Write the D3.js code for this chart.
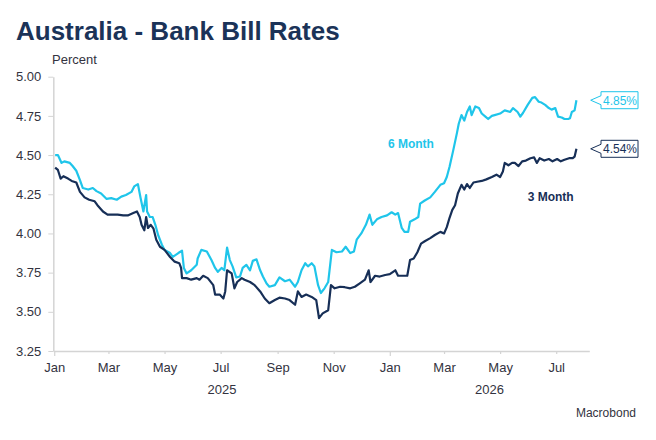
<!DOCTYPE html>
<html>
<head>
<meta charset="utf-8">
<script src="https://cdn.jsdelivr.net/npm/d3@7"></script>
<style>
  body { margin: 0; background: #fff; }
  svg { display: block; font-family: "Liberation Sans", Arial, sans-serif; }
  .axis path, .axis line { stroke: #d4d4d4; }
  .axis text { fill: #333340; font-size: 13px; }
</style>
</head>
<body>
<svg id="chart" width="656" height="440"></svg>
<script>
var title = 'Australia - Bank Bill Rates';
var unitLabel = 'Percent';
var sourceLabel = 'Macrobond';

var yTickValues = [3.25, 3.5, 3.75, 4.0, 4.25, 4.5, 4.75, 5.0];
var xDomain = ['2024-12-31', '2026-08-06'];

// 6 month bank bill
var sixMonthDates = [
  '2025-01-02', '2025-01-05', '2025-01-09', '2025-01-12', '2025-01-18', '2025-01-21', '2025-01-25', '2025-01-29',
  '2025-02-01', '2025-02-07', '2025-02-12', '2025-02-16', '2025-02-21', '2025-02-27', '2025-03-04', '2025-03-10',
  '2025-03-15', '2025-03-20', '2025-03-26', '2025-03-29', '2025-04-02', '2025-04-05', '2025-04-08', '2025-04-11',
  '2025-04-12', '2025-04-15', '2025-04-18', '2025-04-21', '2025-04-24', '2025-04-28', '2025-05-01', '2025-05-07',
  '2025-05-10', '2025-05-16', '2025-05-20', '2025-05-22', '2025-05-25', '2025-05-30', '2025-06-05', '2025-06-06',
  '2025-06-10', '2025-06-16', '2025-06-21', '2025-06-25', '2025-06-28', '2025-07-02', '2025-07-05', '2025-07-08',
  '2025-07-11', '2025-07-14', '2025-07-18', '2025-07-22', '2025-07-25', '2025-07-29', '2025-08-02', '2025-08-05',
  '2025-08-09', '2025-08-13', '2025-08-16', '2025-08-20', '2025-08-23', '2025-08-29', '2025-09-03', '2025-09-09',
  '2025-09-14', '2025-09-20', '2025-09-23', '2025-09-27', '2025-10-01', '2025-10-04', '2025-10-08', '2025-10-11',
  '2025-10-15', '2025-10-18', '2025-10-22', '2025-10-26', '2025-10-30', '2025-11-04', '2025-11-10', '2025-11-14',
  '2025-11-19', '2025-11-23', '2025-11-26', '2025-12-01', '2025-12-06', '2025-12-10', '2025-12-13', '2025-12-18',
  '2025-12-23', '2025-12-29', '2026-01-03', '2026-01-07', '2026-01-10', '2026-01-14', '2026-01-17', '2026-01-21',
  '2026-01-23', '2026-01-28', '2026-02-01', '2026-02-03', '2026-02-08', '2026-02-14', '2026-02-19', '2026-02-25',
  '2026-03-01', '2026-03-04', '2026-03-07', '2026-03-11', '2026-03-15', '2026-03-17', '2026-03-20', '2026-03-23',
  '2026-03-26', '2026-03-29', '2026-03-31', '2026-04-04', '2026-04-08', '2026-04-11', '2026-04-15', '2026-04-18',
  '2026-04-22', '2026-04-25', '2026-05-01', '2026-05-06', '2026-05-12', '2026-05-15', '2026-05-20', '2026-05-23',
  '2026-05-26', '2026-05-31', '2026-06-05', '2026-06-08', '2026-06-12', '2026-06-15', '2026-06-19', '2026-06-23',
  '2026-06-26', '2026-06-30', '2026-07-03', '2026-07-07', '2026-07-10', '2026-07-14', '2026-07-16', '2026-07-18',
  '2026-07-21', '2026-07-23'
];
var sixMonthValues = [
  4.50, 4.50, 4.45, 4.46, 4.45, 4.43, 4.40, 4.34,
  4.29, 4.28, 4.29, 4.27, 4.255, 4.22, 4.225, 4.215,
  4.235, 4.245, 4.265, 4.30, 4.315, 4.225, 4.14, 4.245,
  4.14, 4.105, 4.105, 4.055, 3.99, 3.93, 3.895, 3.875,
  3.85, 3.875, 3.89, 3.78, 3.745, 3.765, 3.80, 3.84,
  3.895, 3.885, 3.83, 3.78, 3.755, 3.78, 3.765, 3.91,
  3.83, 3.79, 3.72, 3.725, 3.78, 3.80, 3.765, 3.825,
  3.835, 3.765, 3.725, 3.68, 3.66, 3.67, 3.72, 3.695,
  3.705, 3.66, 3.69, 3.765, 3.81, 3.79, 3.81, 3.79,
  3.67, 3.62, 3.65, 3.69, 3.895, 3.88, 3.885, 3.915,
  3.875, 3.885, 3.96, 4.00, 4.055, 4.12, 4.055, 4.09,
  4.105, 4.115, 4.135, 4.12, 4.13, 4.035, 4.01, 4.01,
  4.075, 4.09, 4.105, 4.19, 4.21, 4.23, 4.265, 4.31,
  4.32, 4.36, 4.425, 4.53, 4.64, 4.70, 4.755, 4.72,
  4.775, 4.81, 4.755, 4.81, 4.80, 4.765, 4.745, 4.73,
  4.75, 4.755, 4.765, 4.785, 4.775, 4.80, 4.775, 4.745,
  4.77, 4.82, 4.865, 4.87, 4.84, 4.835, 4.82, 4.80,
  4.79, 4.80, 4.745, 4.74, 4.73, 4.73, 4.735, 4.775,
  4.785, 4.85
];

// 3 month bank bill
var threeMonthDates = [
  '2025-01-02', '2025-01-05', '2025-01-08', '2025-01-11', '2025-01-16', '2025-01-20', '2025-01-25', '2025-01-29',
  '2025-02-03', '2025-02-08', '2025-02-14', '2025-02-17', '2025-02-23', '2025-02-28', '2025-03-06', '2025-03-11',
  '2025-03-17', '2025-03-22', '2025-03-28', '2025-04-01', '2025-04-04', '2025-04-06', '2025-04-09', '2025-04-11',
  '2025-04-13', '2025-04-16', '2025-04-19', '2025-04-22', '2025-04-26', '2025-05-01', '2025-05-07', '2025-05-12',
  '2025-05-17', '2025-05-19', '2025-05-20', '2025-05-25', '2025-05-30', '2025-06-05', '2025-06-08', '2025-06-12',
  '2025-06-17', '2025-06-23', '2025-06-25', '2025-06-30', '2025-07-04', '2025-07-06', '2025-07-08', '2025-07-13',
  '2025-07-16', '2025-07-19', '2025-07-24', '2025-07-27', '2025-08-02', '2025-08-07', '2025-08-13', '2025-08-18',
  '2025-08-23', '2025-08-29', '2025-09-03', '2025-09-09', '2025-09-14', '2025-09-20', '2025-09-23', '2025-09-27',
  '2025-10-02', '2025-10-08', '2025-10-13', '2025-10-16', '2025-10-20', '2025-10-26', '2025-10-29', '2025-11-02',
  '2025-11-08', '2025-11-13', '2025-11-19', '2025-11-24', '2025-11-29', '2025-12-05', '2025-12-09', '2025-12-11',
  '2025-12-16', '2025-12-21', '2025-12-27', '2026-01-01', '2026-01-07', '2026-01-10', '2026-01-16', '2026-01-20',
  '2026-01-23', '2026-01-27', '2026-01-31', '2026-02-04', '2026-02-08', '2026-02-14', '2026-02-19', '2026-02-25',
  '2026-03-01', '2026-03-04', '2026-03-07', '2026-03-10', '2026-03-13', '2026-03-16', '2026-03-20', '2026-03-23',
  '2026-03-26', '2026-03-29', '2026-04-02', '2026-04-06', '2026-04-11', '2026-04-16', '2026-04-22', '2026-04-27',
  '2026-05-01', '2026-05-04', '2026-05-06', '2026-05-10', '2026-05-14', '2026-05-17', '2026-05-21', '2026-05-25',
  '2026-05-29', '2026-06-03', '2026-06-07', '2026-06-10', '2026-06-13', '2026-06-18', '2026-06-23', '2026-06-27',
  '2026-07-02', '2026-07-06', '2026-07-10', '2026-07-15', '2026-07-19', '2026-07-21', '2026-07-23'
];
var threeMonthValues = [
  4.42, 4.405, 4.35, 4.365, 4.35, 4.335, 4.325, 4.265,
  4.23, 4.215, 4.205, 4.18, 4.14, 4.12, 4.12, 4.12,
  4.115, 4.115, 4.13, 4.14, 4.105, 4.055, 4.02, 4.105,
  4.035, 4.055, 4.03, 3.96, 3.915, 3.895, 3.85, 3.82,
  3.81, 3.78, 3.715, 3.715, 3.705, 3.715, 3.705, 3.73,
  3.715, 3.67, 3.61, 3.61, 3.585, 3.63, 3.765, 3.745,
  3.65, 3.69, 3.715, 3.705, 3.69, 3.67, 3.63, 3.585,
  3.555, 3.575, 3.59, 3.585, 3.575, 3.545, 3.63, 3.595,
  3.61, 3.595, 3.575, 3.46, 3.49, 3.51, 3.67, 3.65,
  3.66, 3.657, 3.65, 3.66, 3.68, 3.705, 3.765, 3.69,
  3.73, 3.725, 3.735, 3.74, 3.765, 3.73, 3.73, 3.73,
  3.83, 3.84, 3.88, 3.935, 3.95, 3.97, 3.99, 4.01,
  4.00, 4.04, 4.10, 4.15, 4.18, 4.255, 4.31, 4.28,
  4.315, 4.29, 4.325, 4.33, 4.335, 4.345, 4.36, 4.375,
  4.36, 4.395, 4.45, 4.435, 4.45, 4.45, 4.43, 4.46,
  4.465, 4.48, 4.485, 4.45, 4.48, 4.465, 4.475, 4.46,
  4.475, 4.46, 4.47, 4.48, 4.48, 4.49, 4.54
];

var seriesNames = ['6 Month', '3 Month'];
var seriesColors = ['#1fc5ea', '#172f57'];
// where each series name sits (date, value)
var labelDates = ['2025-12-30', '2026-05-31'];
var labelValues = [4.545, 4.207];

var parse = d3.timeParse('%Y-%m-%d');

function zip(dates, values) {
  return dates.map(function(d, i) {
    return { date: parse(d), value: values[i] };
  });
}

var series = seriesNames.map(function(name, i) {
  return {
    name: name,
    color: seriesColors[i],
    labelDate: parse(labelDates[i]),
    labelValue: labelValues[i],
    data: i === 0 ? zip(sixMonthDates, sixMonthValues) : zip(threeMonthDates, threeMonthValues)
  };
});

var svg = d3.select('#chart');
var margin = { top: 76.7, right: 66.7, bottom: 89, left: 53.3 };
var width = 656, height = 440;

var xScale = d3.scaleTime()
  .domain(xDomain.map(parse))
  .range([margin.left, width - margin.right]);

var yScale = d3.scaleLinear()
  .domain([3.25, 5.0])
  .range([height - margin.bottom, margin.top]);

// title
svg.append('text')
  .attr('x', 16)
  .attr('y', 40)
  .attr('fill', '#1b3358')
  .style('font-size', '26px')
  .style('font-weight', 'bold')
  .text(title);

svg.append('text')
  .attr('x', 52)
  .attr('y', 64)
  .attr('fill', '#333340')
  .style('font-size', '13px')
  .text(unitLabel);

// y axis
var yAxis = svg.append('g')
  .attr('class', 'axis y-axis')
  .attr('transform', 'translate(' + margin.left + ',0)')
  .call(d3.axisLeft(yScale)
    .tickValues(yTickValues)
    .tickFormat(d3.format('.2f'))
    .tickSize(5)
    .tickSizeOuter(0)
    .tickPadding(7));
yAxis.select('.domain').attr('stroke-width', 1.5);

// x axis
var xAxis = svg.append('g')
  .attr('class', 'axis x-axis')
  .attr('transform', 'translate(0,' + yScale(3.25) + ')')
  .call(d3.axisBottom(xScale)
    .ticks(d3.timeMonth.every(2))
    .tickFormat(d3.timeFormat('%b'))
    .tickSize(3)
    .tickSizeOuter(0)
    .tickPadding(9));
xAxis.select('.domain').attr('stroke-width', 1.5);
xAxis.selectAll('.tick line')
  .attr('stroke-width', 1.2)
  .attr('y2', function(d) { return d.getMonth() === 0 ? 5 : 3; });

// year labels, centred on the part of each year that is visible
var xExtent = xScale.domain();
var years = d3.timeYear.range(d3.timeYear.ceil(xExtent[0]), xExtent[1]);
svg.append('g')
  .selectAll('text')
  .data(years)
  .enter()
  .append('text')
  .attr('x', function(y) {
    var end = d3.timeYear.offset(y, 1);
    var b = end > xExtent[1] ? xExtent[1] : end;
    return (xScale(y) + xScale(b)) / 2;
  })
  .attr('y', 393.5)
  .attr('text-anchor', 'middle')
  .attr('fill', '#333340')
  .style('font-size', '13px')
  .text(function(y) { return y.getFullYear(); });

// lines
var line = d3.line()
  .x(function(d) { return xScale(d.date); })
  .y(function(d) { return yScale(d.value); });

svg.append('g')
  .selectAll('path.series')
  .data(series)
  .enter()
  .append('path')
  .attr('class', 'series')
  .attr('fill', 'none')
  .attr('stroke', function(d) { return d.color; })
  .attr('stroke-width', 2.2)
  .attr('stroke-linejoin', 'round')
  .attr('d', function(d) { return line(d.data); });

// series labels
svg.append('g')
  .selectAll('text')
  .data(series)
  .enter()
  .append('text')
  .attr('x', function(d) { return xScale(d.labelDate); })
  .attr('y', function(d) { return yScale(d.labelValue); })
  .attr('fill', function(d) { return d.color; })
  .style('font-size', '12px')
  .style('font-weight', 'bold')
  .text(function(d) { return d.name; });

// last value callouts
var boxLeft = 601, boxRight = 638, boxH = 17, tipX = 590.7;
var callouts = svg.append('g')
  .selectAll('g')
  .data(series)
  .enter()
  .append('g');

callouts.append('path')
  .attr('fill', '#fff')
  .attr('stroke', function(d) { return d.color; })
  .attr('stroke-width', 1)
  .attr('d', function(d) {
    var y = yScale(d.data[d.data.length - 1].value);
    var top = y - boxH / 2, bottom = y + boxH / 2;
    return 'M' + tipX + ',' + y +
      'L' + boxLeft + ',' + (y - 4.5) +
      'L' + boxLeft + ',' + top +
      'L' + boxRight + ',' + top +
      'L' + boxRight + ',' + bottom +
      'L' + boxLeft + ',' + bottom +
      'L' + boxLeft + ',' + (y + 4.5) + 'Z';
  });

callouts.append('text')
  .attr('x', (boxLeft + boxRight) / 2 + 0.5)
  .attr('y', function(d) { return yScale(d.data[d.data.length - 1].value) + 4.3; })
  .attr('text-anchor', 'middle')
  .attr('fill', function(d) { return d.color; })
  .style('font-size', '12px')
  .text(function(d) { return d.data[d.data.length - 1].value.toFixed(2) + '%'; });

// source
svg.append('text')
  .attr('x', 636)
  .attr('y', 416.5)
  .attr('text-anchor', 'end')
  .attr('fill', '#333340')
  .style('font-size', '12px')
  .text(sourceLabel);
</script>
</body>
</html>
